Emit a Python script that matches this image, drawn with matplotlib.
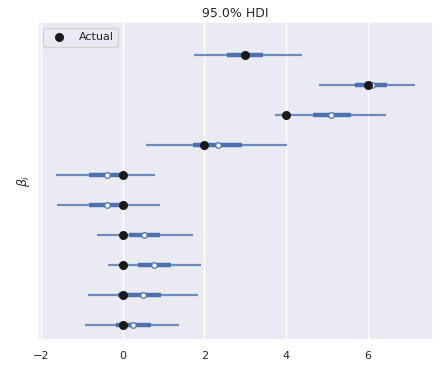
import numpy as np
import matplotlib
matplotlib.use("Agg")
import matplotlib.pyplot as plt
import seaborn as sns

sns.set_theme(style="darkgrid")

# posterior summaries per coefficient, top row first
hdi_low = [1.74, 4.81, 3.73, 0.56, -1.64, -1.62, -0.64, -0.37, -0.86, -0.93]
hdi_high = [4.39, 7.17, 6.45, 4.02, 0.79, 0.91, 1.72, 1.91, 1.84, 1.37]
q_low = [2.55, 5.69, 4.66, 1.72, -0.83, -0.83, 0.15, 0.37, -0.12, -0.17]
q_high = [3.44, 6.48, 5.60, 2.92, 0.05, 0.05, 0.91, 1.18, 0.93, 0.69]
medians = [3.02, 6.11, 5.10, 2.33, -0.39, -0.39, 0.52, 0.76, 0.49, 0.25]
actual = [3, 6, 4, 2, 0, 0, 0, 0, 0, 0]

blue = "#4C72B0"
n = len(actual)
y = np.arange(n)[::-1]

fig = plt.figure(figsize=(4.4, 3.68), dpi=100)
ax = fig.add_axes([0.086, 0.076, 0.898, 0.864])

ax.hlines(y, hdi_low, hdi_high, color=blue, lw=1.6, alpha=0.8, zorder=2)
ax.hlines(y, q_low, q_high, color=blue, lw=3.2, zorder=3)
ax.plot(medians, y, "o", mfc="white", mec=blue, ms=4, mew=0.9, zorder=4)
ax.scatter(actual, y, color="#1a1a1a", s=30, zorder=5, label="Actual")

ax.set_xlim(-2.08, 7.6)
ax.set_ylim(-0.5, 10.1)
ax.set_yticks([])
ax.grid(axis="y", visible=False)
ax.set_xticks([-2, 0, 2, 4, 6])
ax.tick_params(axis="x", labelsize=8, pad=2)
ax.set_ylabel(r"$\beta_i$", fontsize=9)
ax.set_title("95.0% HDI", fontsize=9, pad=4)
ax.legend(loc="upper left", fontsize=8)

plt.savefig("out.png", dpi=100)
